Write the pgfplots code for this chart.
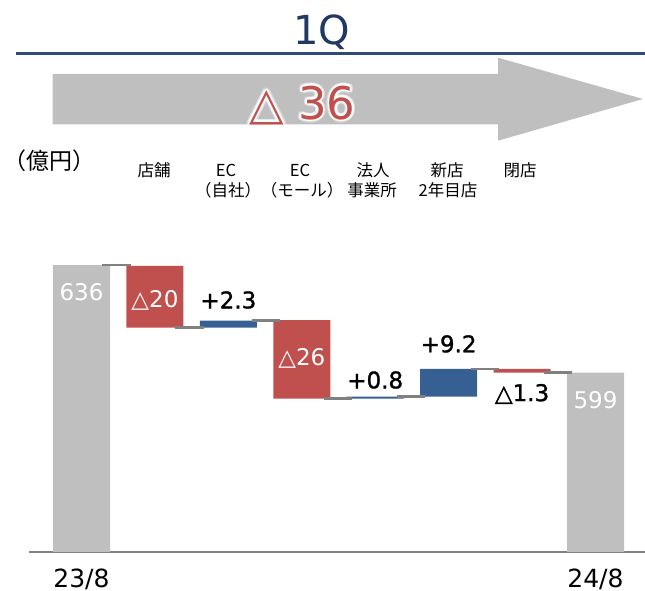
\documentclass[border=0pt]{standalone}
\usepackage{pgfplots}
\pgfplotsset{compat=1.18}
\usepackage{pgfplotstable}
\usepackage{fontspec}
\setmainfont{DejaVu Sans}
\newfontfamily\jp{Noto Sans CJK JP}
\newfontfamily\numb[FakeBold=1.2]{DejaVu Sans}
\definecolor{tgrey}{HTML}{BFBFBF}
\definecolor{tred}{HTML}{C0504D}
\definecolor{tblue}{HTML}{366092}
\definecolor{tnavy}{HTML}{1F3864}
\definecolor{tline}{HTML}{2E4A76}
\definecolor{tconn}{HTML}{808080}

\pgfplotstableread{
x base total red blue
0 0 636 0 0
1 614.5 0 21.2 0
2 614.5 0 0 2.4
3 590.1 0 27.0 0
4 590.1 0 0 0.7
5 590.8 0 0 9.5
6 599.0 0 1.3 0
7 0 599 0 0
}\wf

\pgfplotsset{common/.style={
  at={(29pt,39pt)}, anchor=south west, scale only axis,
  width=616pt, height=307pt,
  xmin=-0.715, xmax=7.674, ymin=537.4, ymax=642.9}}

\begin{document}
\begin{tikzpicture}[x=1pt,y=1pt]
\useasboundingbox (0,0) rectangle (645,591);
% header
\node[anchor=base, text=tnavy, font=\fontsize{40}{48}\selectfont] at (322,546) {1Q};
\draw[tline, line width=2.5pt] (15.6,537.7) -- (645,537.7);
\fill[tgrey] (52.7,517) -- (498,517) -- (498,533.3) -- (643,492) -- (498,450.3) -- (498,466.7) -- (52.7,466.7) -- cycle;
\foreach \a in {0,30,...,330}{
  \node[anchor=base, text=white, opacity=0.3, font=\fontsize{45}{54}\selectfont, shift={(\a:3pt)}] at (302.5,471.7) {△ 36};
  \node[anchor=base, text=white, opacity=0.6, font=\fontsize{45}{54}\selectfont, shift={(\a:1.5pt)}] at (302.5,471.7) {△ 36};
}
\node[anchor=base, text=tred, font=\fontsize{45}{54}\selectfont] at (302.5,471.7) {△ 36};
\node[font=\jp\fontsize{23}{27}\selectfont] at (49,430) {（億円）};
\begin{scope}[font=\jp\fontsize{16.5}{20}\selectfont]
\node at (154,421) {店舗};
\node at (226,421) {EC};
\node at (228,401) {（自社）};
\node at (300,421) {EC};
\node at (302,401) {（モール）};
\node at (373,421) {法人};
\node at (372,401) {事業所};
\node at (447,421) {新店};
\node at (448,401) {2年目店};
\node at (520,421) {閉店};
\end{scope}
\begin{axis}[common,
  ybar stacked, bar width=57pt,
  axis y line=none, axis x line*=bottom,
  x axis line style={draw=tconn, line width=1.2pt},
  xtick={0,7}, xticklabels={\mbox{23/8},\mbox{24/8}},
  major tick length=0pt,
  xticklabel style={anchor=center, inner sep=0pt, yshift=-27pt, font=\fontsize{25}{30}\selectfont},
]
\addplot[draw=none, fill=none] table[x=x,y=base]{\wf};
\addplot[draw=none, fill=tgrey] table[x=x,y=total]{\wf};
\addplot[draw=none, fill=tred] table[x=x,y=red]{\wf};
\addplot[draw=none, fill=tblue] table[x=x,y=blue]{\wf};
\end{axis}
\begin{axis}[common, axis lines=none, ticks=none]
\addplot[no marks, tconn, line width=2.8pt] coordinates {(0.28,636) (0.67,636)};
\addplot[no marks, tconn, line width=2.8pt] coordinates {(1.28,614.5) (1.67,614.5)};
\addplot[no marks, tconn, line width=2.8pt] coordinates {(2.32,616.9) (2.70,616.9)};
\addplot[no marks, tconn, line width=2.8pt] coordinates {(3.30,590.1) (3.68,590.1)};
\addplot[no marks, tconn, line width=2.8pt] coordinates {(4.30,590.8) (4.68,590.8)};
\addplot[no marks, tconn, line width=2.8pt] coordinates {(5.30,600.3) (5.68,600.3)};
\addplot[no marks, tconn, line width=2.8pt] coordinates {(6.30,599.0) (6.68,599.0)};
\node[text=white, font=\fontsize{23}{28}\selectfont] at (axis cs:0,626.75) {636};
\node[text=white, font=\fontsize{23}{28}\selectfont] at (axis cs:1,624.0) {△20};
\node[font=\numb\fontsize{23}{28}\selectfont] at (axis cs:2,624.0) {+2.3};
\node[text=white, font=\fontsize{23}{28}\selectfont] at (axis cs:3,604.1) {△26};
\node[font=\numb\fontsize{23}{28}\selectfont] at (axis cs:4,596.5) {+0.8};
\node[font=\numb\fontsize{23}{28}\selectfont] at (axis cs:5,608.9) {+9.2};
\node[font=\numb\fontsize{23}{28}\selectfont] at (axis cs:6,591.7) {△1.3};
\node[text=white, font=\fontsize{23}{28}\selectfont] at (axis cs:7,589.6) {599};
\end{axis}
\end{tikzpicture}
\end{document}
